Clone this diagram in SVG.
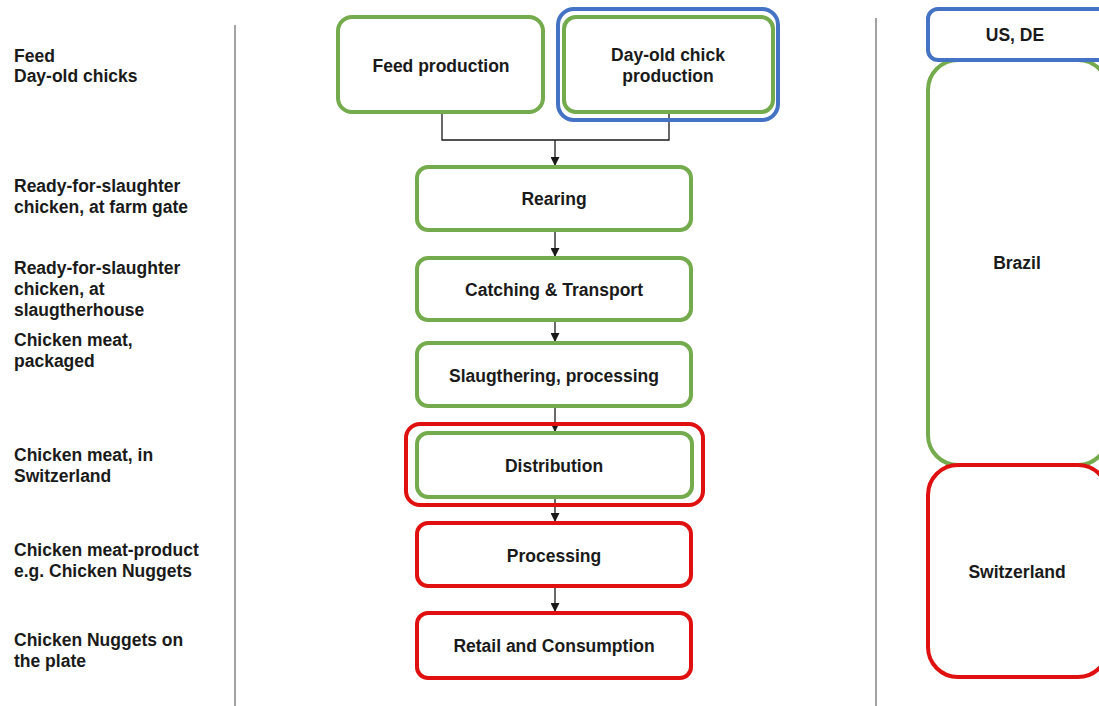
<svg xmlns="http://www.w3.org/2000/svg" width="1099" height="706" viewBox="0 0 1099 706">
  <style>
    text { font-family: "Liberation Sans", Arial, sans-serif; font-weight: bold; font-size: 17.5px; fill: #1a1a1a; }
    .c { text-anchor: middle; }
    .box { fill: #ffffff; stroke-width: 4; }
    .frame { fill: none; stroke-width: 4; }
    .green { stroke: #74ab4d; }
    .blue { stroke: #4472c4; }
    .red { stroke: #e01010; }
    .divider { stroke: #707070; stroke-width: 1.3; }
    .link { fill: none; stroke: #1a1a1a; stroke-width: 1.3; }
  </style>
  <defs>
    <marker id="arrow" viewBox="0 0 10 10" refX="10" refY="5" markerWidth="9" markerHeight="9" markerUnits="userSpaceOnUse" orient="auto">
      <path d="M0,0 L10,5 L0,10 z" fill="#1a1a1a"/>
    </marker>
  </defs>
  <rect width="1099" height="706" fill="#ffffff"/>

  <!-- column dividers -->
  <g id="dividers">
    <line class="divider" x1="235" y1="25" x2="235" y2="706"/>
    <line class="divider" x1="876" y1="18" x2="876" y2="706"/>
  </g>

  <!-- left column: product at each stage -->
  <g id="stage-labels">
    <text x="14" y="62">Feed</text>
    <text x="14" y="82">Day-old chicks</text>
    <text x="14" y="192">Ready-for-slaughter</text>
    <text x="14" y="213">chicken, at farm gate</text>
    <text x="14" y="274">Ready-for-slaughter</text>
    <text x="14" y="295">chicken, at</text>
    <text x="14" y="316">slaugtherhouse</text>
    <text x="14" y="346">Chicken meat,</text>
    <text x="14" y="367">packaged</text>
    <text x="14" y="461">Chicken meat, in</text>
    <text x="14" y="482">Switzerland</text>
    <text x="14" y="556">Chicken meat-product</text>
    <text x="14" y="577">e.g. Chicken Nuggets</text>
    <text x="14" y="646">Chicken Nuggets on</text>
    <text x="14" y="667">the plate</text>
  </g>

  <!-- connectors -->
  <g id="connectors">
    <polyline class="link" points="442,112 442,140 669,140 669,112"/>
    <line class="link" x1="555" y1="140" x2="555" y2="166" marker-end="url(#arrow)"/>
    <line class="link" x1="555" y1="230" x2="555" y2="257" marker-end="url(#arrow)"/>
    <line class="link" x1="555" y1="320" x2="555" y2="342" marker-end="url(#arrow)"/>
    <line class="link" x1="555" y1="406" x2="555" y2="432" marker-end="url(#arrow)"/>
    <line class="link" x1="555" y1="498" x2="555" y2="522" marker-end="url(#arrow)"/>
    <line class="link" x1="555" y1="586" x2="555" y2="612" marker-end="url(#arrow)"/>
  </g>

  <!-- process chain -->
  <g id="feed-production">
    <rect class="box green" x="338" y="17" width="205" height="95" rx="14"/>
    <text class="c" x="441" y="72">Feed production</text>
  </g>
  <g id="day-old-chick-production">
    <rect class="frame blue" x="558" y="9" width="220" height="111" rx="16"/>
    <rect class="box green" x="564" y="17" width="209" height="95" rx="12"/>
    <text class="c" x="668" y="61">Day-old chick</text>
    <text class="c" x="668" y="82">production</text>
  </g>
  <g id="rearing">
    <rect class="box green" x="417" y="167" width="274" height="63" rx="11"/>
    <text class="c" x="554" y="205">Rearing</text>
  </g>
  <g id="catching-transport">
    <rect class="box green" x="417" y="258" width="274" height="62" rx="11"/>
    <text class="c" x="554" y="296">Catching &amp; Transport</text>
  </g>
  <g id="slaughtering">
    <rect class="box green" x="417" y="343" width="274" height="63" rx="11"/>
    <text class="c" x="554" y="382">Slaugthering, processing</text>
  </g>
  <g id="distribution">
    <rect class="frame red" x="406" y="424" width="297" height="81" rx="14"/>
    <rect class="box green" x="417" y="433" width="275" height="64" rx="11"/>
    <text class="c" x="554" y="472">Distribution</text>
  </g>
  <g id="processing">
    <rect class="box red" x="417" y="523" width="274" height="63" rx="11"/>
    <text class="c" x="554" y="562">Processing</text>
  </g>
  <g id="retail-consumption">
    <rect class="box red" x="417" y="613" width="274" height="65" rx="11"/>
    <text class="c" x="554" y="652">Retail and Consumption</text>
  </g>

  <!-- right column: country of each stage -->
  <g id="brazil">
    <rect class="box green" x="928" y="60" width="180" height="405" rx="30"/>
    <text class="c" x="1017" y="269">Brazil</text>
  </g>
  <g id="us-de">
    <rect class="box blue" x="928" y="9" width="180" height="51" rx="10"/>
    <text class="c" x="1015" y="41">US, DE</text>
  </g>
  <g id="switzerland">
    <rect class="box red" x="928" y="465" width="180" height="212" rx="30"/>
    <text class="c" x="1017" y="578">Switzerland</text>
  </g>
</svg>
